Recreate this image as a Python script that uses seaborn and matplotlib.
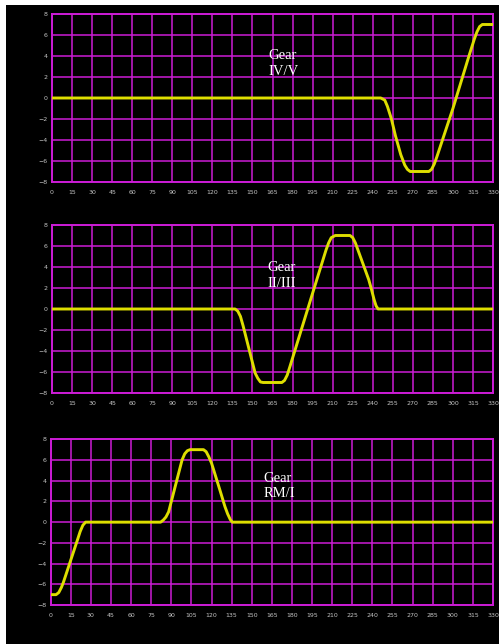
import numpy as np
import pandas as pd
import matplotlib
matplotlib.use("Agg")
import matplotlib.pyplot as plt
import seaborn as sns
from matplotlib.patches import Rectangle

# crank angle ticks and lift ticks
x_ticks = list(range(0, 331, 15))
y_ticks = list(range(-8, 9, 2))

# Gear IV/V
iv_x = [0, 246, 249, 251, 254, 257, 261, 264, 266, 268, 270, 282, 284, 286, 288,
        300, 312, 316, 318, 320, 322, 324, 330]
iv_y = [0, 0, -0.2, -0.8, -2.0, -3.6, -5.4, -6.4, -6.8, -7.0, -7.0, -7.0, -6.8,
        -6.3, -5.6, -1.0, 4.0, 5.6, 6.3, 6.8, 7.0, 7.0, 7.0]

# Gear II/III
ii_x = [0, 137, 139, 141, 143, 152, 154, 156, 158, 172, 174, 176, 178, 195, 205,
        207, 209, 212, 223, 225, 227, 229, 237, 239, 241, 242.5, 244, 330]
ii_y = [0, 0, -0.2, -0.7, -1.6, -6.1, -6.6, -6.95, -7, -7, -6.8, -6.3, -5.5, 1.5,
        5.6, 6.3, 6.8, 7, 7, 6.8, 6.3, 5.6, 2.8, 1.9, 0.9, 0.3, 0, 0]

# Gear RM/I
rm_x = [0, 4, 6, 8, 9.5, 20, 22, 24, 26, 82, 84, 86, 88, 98, 100, 102, 104, 114,
        116, 118, 120, 126, 130, 132, 134, 135.5, 330]
rm_y = [-7, -7, -6.8, -6.3, -5.8, -1.7, -0.9, -0.3, 0, 0, 0.2, 0.5, 1.0, 6.0, 6.6,
        6.9, 7, 7, 6.8, 6.3, 5.7, 3.2, 1.5, 0.8, 0.25, 0, 0]

labels = ["Gear\nIV/V", "Gear\nII/III", "Gear\nRM/I"]
label_pos = [(162, 3.3), (161, 3.2), (158.5, 3.5)]

sns.set_style("dark", {"axes.facecolor": "black", "figure.facecolor": "white"})

fig = plt.figure(figsize=(4.99, 6.44), dpi=100)
fig.patches.append(Rectangle((6 / 499, 0), 1, 1 - 5 / 644, transform=fig.transFigure,
                             facecolor="black", edgecolor="none", zorder=-10))

rects = [
    [52 / 499, 1 - 182 / 644, 441 / 499, 168 / 644],
    [52 / 499, 1 - 393 / 644, 441 / 499, 168 / 644],
    [50.7 / 499, 1 - 605 / 644, 442.3 / 499, 165.7 / 644],
]
series = [(iv_x, iv_y), (ii_x, ii_y), (rm_x, rm_y)]

grid_col = "#cc1cd6"
curve_col = "#dede00"

for rect, (xs, ys), lab, pos in zip(rects, series, labels, label_pos):
    ax = fig.add_axes(rect)
    df = pd.DataFrame({"angle": xs, "lift": ys})
    sns.lineplot(data=df, x="angle", y="lift", ax=ax, sort=False, estimator=None,
                 color=curve_col, lw=2.1, zorder=3)
    ax.set_xlim(0, 330)
    ax.set_ylim(-8, 8)
    ax.set_xticks(x_ticks)
    ax.set_yticks(y_ticks)
    ax.grid(True, color=grid_col, lw=1.1, zorder=1)
    ax.set_axisbelow(True)
    for s in ax.spines.values():
        s.set_color(grid_col)
        s.set_linewidth(1.4)
        s.set_visible(True)
    ax.tick_params(colors="#c4c4c4", labelsize=4.5, length=0, pad=6)
    ax.tick_params(axis="y", pad=3)
    ax.set_xlabel("")
    ax.set_ylabel("")
    ax.text(pos[0], pos[1], lab, color="white", fontsize=10.5,
            family="Liberation Serif", ha="left", va="center", linespacing=1.25,
            zorder=4)

fig.savefig("out.png", dpi=100, facecolor=fig.get_facecolor())
